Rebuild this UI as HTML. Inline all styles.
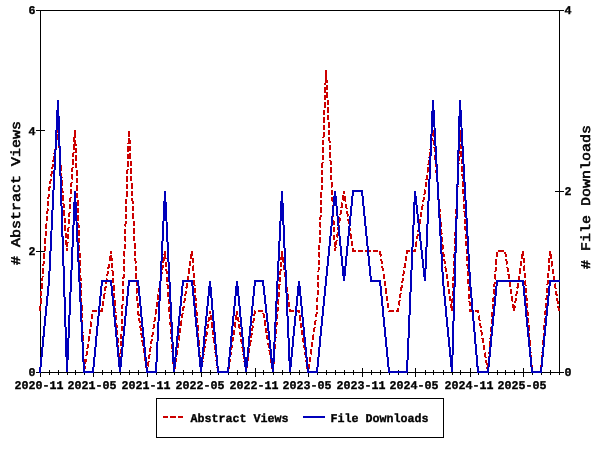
<!DOCTYPE html>
<html lang="en"><head><meta charset="utf-8"><title>Abstract Views and File Downloads</title>
<style>html,body{margin:0;padding:0;background:#fff;}body{width:600px;height:450px;overflow:hidden;}svg{display:block;}text{font-family:"Liberation Mono", "DejaVu Sans Mono", monospace;font-weight:bold;fill:#000;stroke:#000;stroke-width:0.35px;text-rendering:geometricPrecision;}</style></head><body>
<svg width="600" height="450" viewBox="0 0 600 450">
<rect x="0" y="0" width="600" height="450" fill="#ffffff"/>
<path d="M40.5,10 V373 M559.5,10 V373 M40,10.5 H560 M40,372.5 H560 M36,372.5 H45 M36,251.5 H45 M36,130.5 H45 M36,10.5 H45 M555,372.5 H564 M555,191.5 H564 M555,10.5 H564 M40.5,368 V377 M49.5,370 V375 M58.5,370 V375 M67.5,370 V375 M75.5,370 V375 M84.5,370 V375 M93.5,368 V377 M102.5,370 V375 M111.5,370 V375 M120.5,370 V375 M129.5,370 V375 M138.5,370 V375 M147.5,368 V377 M156.5,370 V375 M165.5,370 V375 M174.5,370 V375 M183.5,370 V375 M192.5,370 V375 M201.5,368 V377 M210.5,370 V375 M218.5,370 V375 M228.5,370 V375 M237.5,370 V375 M246.5,370 V375 M255.5,368 V377 M263.5,370 V375 M273.5,370 V375 M282.5,370 V375 M290.5,370 V375 M299.5,370 V375 M308.5,368 V377 M317.5,370 V375 M326.5,370 V375 M335.5,370 V375 M344.5,370 V375 M353.5,370 V375 M362.5,368 V377 M371.5,370 V375 M380.5,370 V375 M389.5,370 V375 M398.5,370 V375 M407.5,370 V375 M415.5,368 V377 M425.5,370 V375 M433.5,370 V375 M443.5,370 V375 M452.5,370 V375 M460.5,370 V375 M470.5,368 V377 M478.5,370 V375 M488.5,370 V375 M497.5,370 V375 M505.5,370 V375 M514.5,370 V375 M523.5,368 V377 M532.5,370 V375 M541.5,370 V375 M550.5,370 V375 M559.5,370 V375" fill="none" stroke="#000" stroke-width="1" shape-rendering="crispEdges"/>
<polyline points="40.00,311.00 49.00,191.00 58.00,130.00 67.00,251.00 75.00,130.00 84.00,372.00 93.00,311.00 102.00,311.00 111.00,251.00 120.00,372.00 129.00,130.00 138.00,311.00 147.00,372.00 156.00,311.00 165.00,251.00 174.00,372.00 183.00,311.00 192.00,251.00 201.00,372.00 210.00,311.00 218.00,372.00 228.00,372.00 237.00,311.00 246.00,372.00 255.00,311.00 263.00,311.00 273.00,372.00 282.00,251.00 290.00,311.00 299.00,311.00 308.00,372.00 317.00,311.00 326.00,70.00 335.00,251.00 344.00,191.00 353.00,251.00 362.00,251.00 371.00,251.00 380.00,251.00 389.00,311.00 398.00,311.00 407.00,251.00 415.00,251.00 425.00,191.00 433.00,130.00 443.00,251.00 452.00,311.00 460.00,130.00 470.00,311.00 478.00,311.00 488.00,372.00 497.00,251.00 505.00,251.00 514.00,311.00 523.00,251.00 532.00,372.00 541.00,372.00 550.00,251.00 559.00,311.00" fill="none" stroke="#cc0000" stroke-width="2" stroke-dasharray="5.3 2.2" stroke-linejoin="miter" shape-rendering="crispEdges"/>
<polyline points="40.00,372.00 49.00,281.00 58.00,100.00 67.00,372.00 75.00,191.00 84.00,372.00 93.00,372.00 102.00,281.00 111.00,281.00 120.00,372.00 129.00,281.00 138.00,281.00 147.00,372.00 156.00,372.00 165.00,191.00 174.00,372.00 183.00,281.00 192.00,281.00 201.00,372.00 210.00,281.00 218.00,372.00 228.00,372.00 237.00,281.00 246.00,372.00 255.00,281.00 263.00,281.00 273.00,372.00 282.00,191.00 290.00,372.00 299.00,281.00 308.00,372.00 317.00,372.00 326.00,281.00 335.00,191.00 344.00,281.00 353.00,191.00 362.00,191.00 371.00,281.00 380.00,281.00 389.00,372.00 398.00,372.00 407.00,372.00 415.00,191.00 425.00,281.00 433.00,100.00 443.00,281.00 452.00,372.00 460.00,100.00 470.00,281.00 478.00,372.00 488.00,372.00 497.00,281.00 505.00,281.00 514.00,281.00 523.00,281.00 532.00,372.00 541.00,372.00 550.00,281.00 559.00,281.00" fill="none" stroke="#0000bb" stroke-width="2" stroke-linejoin="miter" stroke-linecap="square" shape-rendering="crispEdges"/>
<text x="28.5" y="375.9" font-size="11.8" textLength="7" lengthAdjust="spacingAndGlyphs">0</text>
<text x="28.5" y="254.8" font-size="11.8" textLength="7" lengthAdjust="spacingAndGlyphs">2</text>
<text x="28.5" y="134.8" font-size="11.8" textLength="7" lengthAdjust="spacingAndGlyphs">4</text>
<text x="28.5" y="13.8" font-size="11.8" textLength="7" lengthAdjust="spacingAndGlyphs">6</text>
<text x="564.5" y="375.9" font-size="11.8" textLength="7" lengthAdjust="spacingAndGlyphs">0</text>
<text x="564.5" y="194.8" font-size="11.8" textLength="7" lengthAdjust="spacingAndGlyphs">2</text>
<text x="564.5" y="13.8" font-size="11.8" textLength="7" lengthAdjust="spacingAndGlyphs">4</text>
<text x="14.6" y="389.3" font-size="11.8" textLength="49" lengthAdjust="spacingAndGlyphs">2020-11</text>
<text x="67.6" y="389.3" font-size="11.8" textLength="49" lengthAdjust="spacingAndGlyphs">2021-05</text>
<text x="121.6" y="389.3" font-size="11.8" textLength="49" lengthAdjust="spacingAndGlyphs">2021-11</text>
<text x="175.6" y="389.3" font-size="11.8" textLength="49" lengthAdjust="spacingAndGlyphs">2022-05</text>
<text x="229.6" y="389.3" font-size="11.8" textLength="49" lengthAdjust="spacingAndGlyphs">2022-11</text>
<text x="282.6" y="389.3" font-size="11.8" textLength="49" lengthAdjust="spacingAndGlyphs">2023-05</text>
<text x="336.6" y="389.3" font-size="11.8" textLength="49" lengthAdjust="spacingAndGlyphs">2023-11</text>
<text x="389.6" y="389.3" font-size="11.8" textLength="49" lengthAdjust="spacingAndGlyphs">2024-05</text>
<text x="444.6" y="389.3" font-size="11.8" textLength="49" lengthAdjust="spacingAndGlyphs">2024-11</text>
<text x="497.6" y="389.3" font-size="11.8" textLength="49" lengthAdjust="spacingAndGlyphs">2025-05</text>
<text transform="translate(20,265) rotate(-90)" font-size="13.2" style="font-weight:normal;stroke-width:0.55px" text-anchor="start" textLength="144" lengthAdjust="spacingAndGlyphs"># Abstract Views</text>
<text transform="translate(590,269) rotate(-90)" font-size="13.2" style="font-weight:normal;stroke-width:0.55px" text-anchor="start" textLength="144" lengthAdjust="spacingAndGlyphs"># File Downloads</text>
<rect x="156.5" y="398.5" width="287" height="39" fill="#fff" stroke="#000" stroke-width="1" shape-rendering="crispEdges"/>
<path d="M163,417 H183" stroke="#cc0000" stroke-width="2" stroke-dasharray="5 2 6 2 5" shape-rendering="crispEdges" fill="none"/>
<text x="190.4" y="422.0" font-size="11.8" textLength="98" lengthAdjust="spacingAndGlyphs">Abstract Views</text>
<path d="M303,417 H325" stroke="#0000bb" stroke-width="2" fill="none" shape-rendering="crispEdges"/>
<text x="330.4" y="422.0" font-size="11.8" textLength="98" lengthAdjust="spacingAndGlyphs">File Downloads</text>
</svg></body></html>
